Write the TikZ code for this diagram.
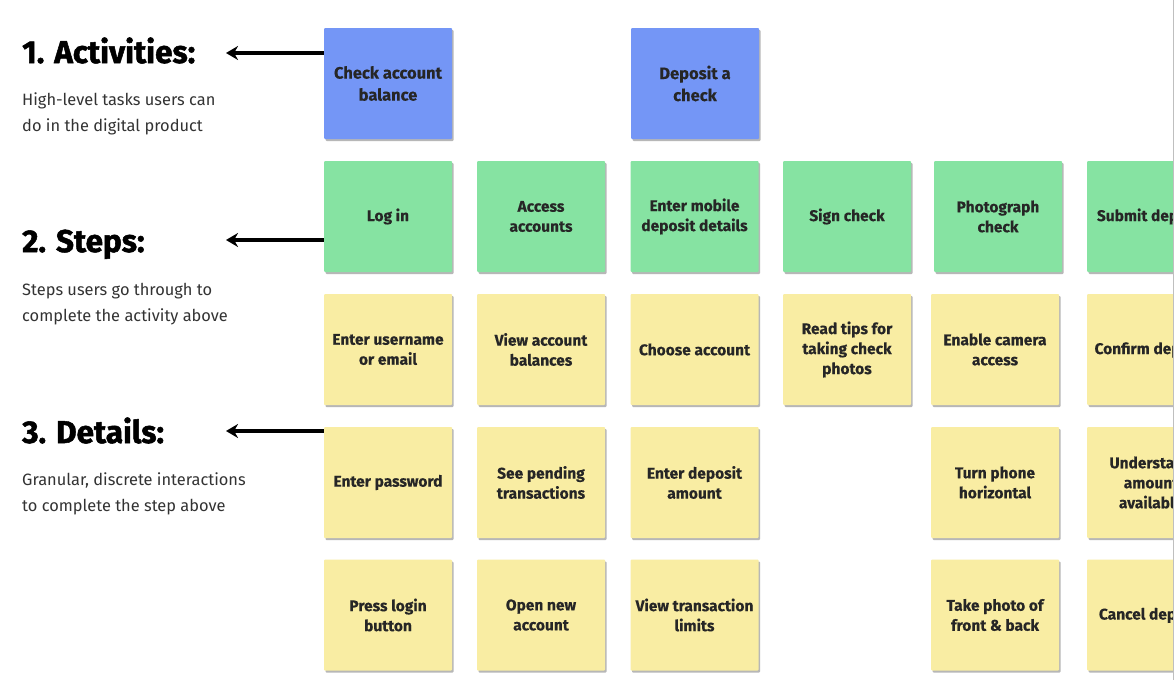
\documentclass[tikz,border=0pt]{standalone}
\usepackage{fontspec}
\setmainfont{Fira Sans}
\newfontfamily\headfont[BoldFeatures={FakeBold=1.6}]{Fira Sans}
\newfontfamily\cardfont[BoldFeatures={FakeBold=0.3}]{Fira Sans}
\usetikzlibrary{arrows.meta,shadows}
\definecolor{blueC}{HTML}{7496F6}
\definecolor{greenC}{HTML}{86E3A2}
\definecolor{yellowC}{HTML}{F9EDA3}
\definecolor{ink}{HTML}{262626}
\definecolor{desc}{HTML}{333333}
\tikzset{
  card/.style={minimum width=128pt, minimum height=111pt, inner sep=0pt,
    align=center, text=ink, rounded corners=1pt,
    font=\cardfont\bfseries\fontsize{15.5}{20}\selectfont,
    drop shadow={shadow xshift=1.5pt, shadow yshift=-2pt, opacity=.4, fill=black!70}},
  act/.style={card, fill=blueC, font=\cardfont\bfseries\fontsize{16.5}{22}\selectfont},
  stepcard/.style={card, fill=greenC},
  detail/.style={card, fill=yellowC},
  heading/.style={anchor=base west, inner sep=0pt, font=\headfont\bfseries\fontsize{31.5}{31.5}\selectfont, text=black},
  descr/.style={anchor=base west, align=left, text=desc, font=\fontsize{16.4}{26}\selectfont, inner sep=0pt},
  pointer/.style={line width=3.2pt, {Stealth[length=12pt,width=14pt]}-}
}
\begin{document}
\begin{tikzpicture}[x=1pt,y=-1pt]
\useasboundingbox (0,0) rectangle (1176,680);
\fill[white] (0,0) rectangle (1176,680);
\begin{scope}
\clip (0,0) rectangle (1173,680);
% activities
\node[act] (a1) at (388,83.5) {Check account\\balance};
\node[act] (a2) at (695,83.5) {Deposit a\\check};
% steps
\node[stepcard] (s1) at (388,216.5) {Log in};
\node[stepcard] (s2) at (541,216.5) {Access\\accounts};
\node[stepcard] (s3) at (694.5,216.5) {Enter mobile\\deposit details};
\node[stepcard] (s4) at (847,216.5) {Sign check};
\node[stepcard] (s5) at (998,216.5) {Photograph\\check};
\node[stepcard] (s6) at (1151,216.5) {Submit deposit};
% details row 1
\node[detail] (d11) at (388,349.5) {Enter username\\or email};
\node[detail] (d12) at (541,349.5) {View account\\balances};
\node[detail] (d13) at (694.5,349.5) {Choose account};
\node[detail] (d14) at (847,349.5) {Read tips for\\taking check\\photos};
\node[detail] (d15) at (995,349.5) {Enable camera\\access};
\node[detail] (d16) at (1151,349.5) {Confirm deposit};
% details row 2
\node[detail] (d21) at (388,482.5) {Enter password};
\node[detail] (d22) at (541,482.5) {See pending\\transactions};
\node[detail] (d23) at (694.5,482.5) {Enter deposit\\amount};
\node[detail] (d25) at (995,482.5) {Turn phone\\horizontal};
\node[detail] (d26) at (1151,482.5) {Understand\\amount\\available};
% details row 3
\node[detail] (d31) at (388,615) {Press login\\button};
\node[detail] (d32) at (541,615) {Open new\\account};
\node[detail] (d33) at (694.5,615) {View transaction\\limits};
\node[detail] (d35) at (995,615) {Take photo of\\front \& back};
\node[detail] (d36) at (1151,615) {Cancel deposit};
\end{scope}
\draw[black!25, line width=1pt] (1173.5,0) -- (1173.5,680);
% legend
\node[heading] (h1) at (22,63) {1. Activities:};
\node[descr] (t1) at (22,131) {High-level tasks users can\\do in the digital product};
\node[heading] (h2) at (22,252) {2. Steps:};
\node[descr] (t2) at (22,321) {Steps users go through to\\complete the activity above};
\node[heading] (h3) at (22,443) {3. Details:};
\node[descr] (t3) at (22,511) {Granular, discrete interactions\\to complete the step above};
\coordinate (p1) at (226,53);
\coordinate (p2) at (226,240);
\coordinate (p3) at (226,431);
\draw[pointer] (p1) -- (p1 -| a1.west);
\draw[pointer] (p2) -- (p2 -| s1.west);
\draw[pointer] (p3) -- (p3 -| d21.west);
\end{tikzpicture}
\end{document}
